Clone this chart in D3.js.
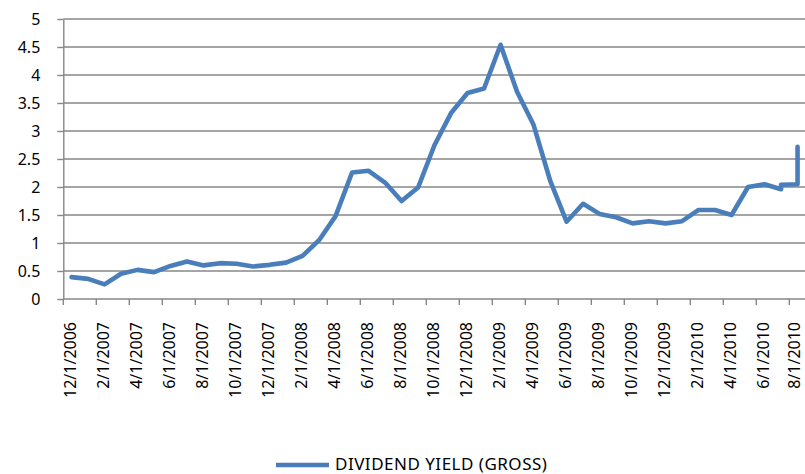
<!DOCTYPE html>
<html>
<head>
<meta charset="utf-8">
<script src="https://cdn.jsdelivr.net/npm/d3@7"></script>
<style>
  html, body { margin: 0; padding: 0; background: #fff; }
  svg { display: block; }
  text { font-family: "Noto Sans", Lato, sans-serif; fill: #000; }
</style>
</head>
<body>
<svg id="chart" width="805" height="474"></svg>
<script>
// Monthly category slots on the horizontal axis
const months = [
  "12/1/2006","1/1/2007","2/1/2007","3/1/2007","4/1/2007","5/1/2007","6/1/2007","7/1/2007",
  "8/1/2007","9/1/2007","10/1/2007","11/1/2007","12/1/2007","1/1/2008","2/1/2008","3/1/2008",
  "4/1/2008","5/1/2008","6/1/2008","7/1/2008","8/1/2008","9/1/2008","10/1/2008","11/1/2008",
  "12/1/2008","1/1/2009","2/1/2009","3/1/2009","4/1/2009","5/1/2009","6/1/2009","7/1/2009",
  "8/1/2009","9/1/2009","10/1/2009","11/1/2009","12/1/2009","1/1/2010","2/1/2010","3/1/2010",
  "4/1/2010","5/1/2010","6/1/2010","7/1/2010","8/1/2010"
];

// Labelled ticks (every second month)
const tickLabels = [
  "12/1/2006","2/1/2007","4/1/2007","6/1/2007","8/1/2007","10/1/2007","12/1/2007",
  "2/1/2008","4/1/2008","6/1/2008","8/1/2008","10/1/2008","12/1/2008","2/1/2009",
  "4/1/2009","6/1/2009","8/1/2009","10/1/2009","12/1/2009","2/1/2010","4/1/2010",
  "6/1/2010","8/1/2010"
];

// Observation month for each reading (several readings fall in Jul/Aug 2010)
const obsMonth = [
  "12/1/2006","1/1/2007","2/1/2007","3/1/2007","4/1/2007","5/1/2007","6/1/2007","7/1/2007",
  "8/1/2007","9/1/2007","10/1/2007","11/1/2007","12/1/2007","1/1/2008","2/1/2008","3/1/2008",
  "4/1/2008","5/1/2008","6/1/2008","7/1/2008","8/1/2008","9/1/2008","10/1/2008","11/1/2008",
  "12/1/2008","1/1/2009","2/1/2009","3/1/2009","4/1/2009","5/1/2009","6/1/2009","7/1/2009",
  "8/1/2009","9/1/2009","10/1/2009","11/1/2009","12/1/2009","1/1/2010","2/1/2010","3/1/2010",
  "4/1/2010","5/1/2010","6/1/2010","7/1/2010","7/1/2010","8/1/2010","8/1/2010"
];

// Dividend yield (gross), %
const dividendYield = [
  0.39, 0.36, 0.26, 0.45, 0.52, 0.48, 0.59, 0.67,
  0.60, 0.64, 0.63, 0.58, 0.61, 0.65, 0.77, 1.05,
  1.48, 2.26, 2.29, 2.08, 1.75, 1.99, 2.75, 3.32,
  3.68, 3.76, 4.54, 3.70, 3.11, 2.12, 1.38, 1.70,
  1.52, 1.46, 1.35, 1.39, 1.35, 1.39, 1.59, 1.59,
  1.50, 2.00, 2.05, 1.96, 2.04, 2.05, 2.72
];

const yTicks = [0, 0.5, 1, 1.5, 2, 2.5, 3, 3.5, 4, 4.5, 5];
const seriesName = "DIVIDEND YIELD (GROSS)";

const W = 805;
const svg = d3.select("#chart");
const gridColor = "#878787";
const lineColor = "#4a7ebb";
const fontFamily = "'Noto Sans', Lato, sans-serif";

const x = d3.scaleBand().domain(months).range([63.3, 805.8]).padding(0);
const y = d3.scaleLinear().domain([0, 5]).range([299, 19]);
const cx = m => x(m) + x.bandwidth() / 2;

// Horizontal gridlines
svg.append("g")
  .selectAll("line")
  .data(yTicks.filter(v => v > 0))
  .join("line")
  .attr("x1", x.range()[0]).attr("x2", W)
  .attr("y1", d => y(d)).attr("y2", d => y(d))
  .attr("stroke", gridColor).attr("stroke-width", 1.4);

// Vertical axis
const yAxis = svg.append("g")
  .attr("transform", `translate(${x.range()[0]},0)`)
  .call(d3.axisLeft(y).tickValues(yTicks).tickFormat(d3.format("")).tickSize(6).tickSizeOuter(0).tickPadding(17));
yAxis.select(".domain").attr("stroke", gridColor).attr("stroke-width", 1.4);
yAxis.selectAll(".tick line").attr("stroke", gridColor).attr("stroke-width", 1.4);
yAxis.selectAll(".tick text").attr("font-size", 16).attr("font-family", fontFamily).attr("fill", "#000");

// Horizontal axis line and tick marks at every second month boundary
const xg = svg.append("g");
xg.append("line")
  .attr("x1", x.range()[0]).attr("x2", W)
  .attr("y1", y(0)).attr("y2", y(0))
  .attr("stroke", gridColor).attr("stroke-width", 1.4);
xg.selectAll("line.tick")
  .data(tickLabels)
  .join("line")
  .attr("class", "tick")
  .attr("x1", d => x(d)).attr("x2", d => x(d))
  .attr("y1", y(0)).attr("y2", y(0) + 6)
  .attr("stroke", gridColor).attr("stroke-width", 1.4);
xg.selectAll("text")
  .data(tickLabels)
  .join("text")
  .attr("transform", d => `translate(${cx(d) - 2},322) rotate(-90)`)
  .attr("text-anchor", "end")
  .attr("dominant-baseline", "central")
  .attr("font-size", 16)
  .text(d => d)
  .each(function (d) {
    // keep the rightmost rotated label inside the drawing area
    const r = this.getBoundingClientRect();
    const over = r.right - (W - 0.5);
    if (over > 0) d3.select(this).attr("transform", `translate(${cx(d) - 2 - over},322) rotate(-90)`);
  });

// Series line
const points = obsMonth.map((m, i) => [cx(m), y(dividendYield[i])]);
svg.append("path")
  .attr("d", d3.line()(points))
  .attr("fill", "none")
  .attr("stroke", lineColor)
  .attr("stroke-width", 4.6)
  .attr("stroke-linejoin", "round")
  .attr("stroke-linecap", "round");

// Legend
const lg = svg.append("g");
lg.append("line")
  .attr("x1", 276).attr("x2", 329)
  .attr("y1", 465).attr("y2", 465)
  .attr("stroke", lineColor).attr("stroke-width", 4.6);
lg.append("text")
  .attr("x", 335).attr("y", 469.5)
  .attr("font-size", 17)
  .attr("letter-spacing", 0.5)
  .text(seriesName);
</script>
</body>
</html>
